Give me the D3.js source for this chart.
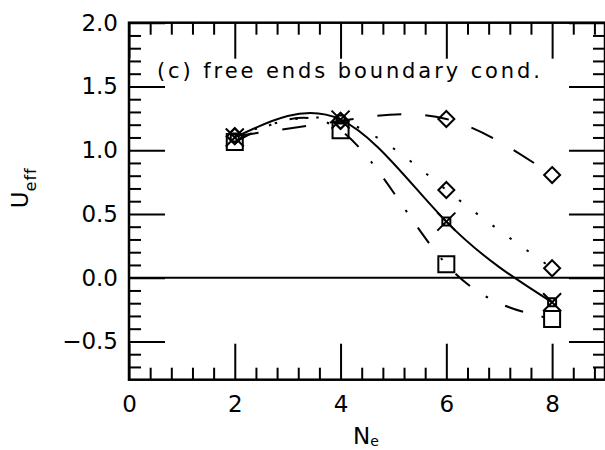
<!DOCTYPE html>
<html>
<head>
<meta charset="utf-8">
<script src="https://cdn.jsdelivr.net/npm/d3@7"></script>
<style>
  html, body { margin: 0; padding: 0; background: #fff; }
  svg { display: block; }
  text { font-family: "DejaVu Sans", sans-serif; fill: #000; }
</style>
</head>
<body>
<svg id="chart" width="605" height="450"></svg>
<script>
// ---- data ----
const ne = [2, 4, 6, 8];
const uDashed  = [1.11, 1.23, 1.245, 0.805];   // diamonds, long dashes
const uDotted  = [1.11, 1.23, 0.688, 0.074];   // diamonds, dotted
const uSolid   = [1.10, 1.24, 0.44, -0.193];   // x-squares, solid
const uDashDot = [1.064, 1.156, 0.105, -0.324]; // squares, dash-dot

const xMajor = [0, 2, 4, 6, 8];
const xMinor = [0.4,0.8,1.2,1.6,2.4,2.8,3.2,3.6,4.4,4.8,5.2,5.6,6.4,6.8,7.2,7.6,8.4,8.8];
const yMajor = [-0.5, 0.0, 0.5, 1.0, 1.5, 2.0];
const yMinor = [-0.7,-0.6,-0.4,-0.3,-0.2,-0.1,0.1,0.2,0.3,0.4,0.6,0.7,0.8,0.9,1.1,1.2,1.3,1.4,1.6,1.7,1.8,1.9];
const annotation = "(c) free ends boundary cond.";

// ---- layout ----
const svg = d3.select("#chart");
const L = 129, R = 605, T = 22.7, B = 379.7;
const x = d3.scaleLinear().domain([0, 9]).range([L, R]);
const y = d3.scaleLinear().domain([-0.8, 2.0]).range([B, T]);

const MAJ = 36, MIN = 12;

function styleAxis(g, labels) {
  g.select(".domain").remove();
  g.selectAll(".tick line").attr("stroke", "#000").attr("stroke-width", 2);
  if (!labels) g.selectAll(".tick text").remove();
  else g.selectAll(".tick text").attr("font-size", 23).attr("font-family", "DejaVu Sans").attr("fill", "#000");
}

// bottom
svg.append("g").attr("transform", `translate(0,${B})`)
  .call(d3.axisBottom(x).tickValues(xMajor).tickSizeInner(-MAJ).tickSizeOuter(0).tickPadding(16).tickFormat(d3.format("d")))
  .call(g => styleAxis(g, true));
svg.append("g").attr("transform", `translate(0,${B})`)
  .call(d3.axisBottom(x).tickValues(xMinor).tickSizeInner(-MIN).tickSizeOuter(0))
  .call(g => styleAxis(g, false));
// top
svg.append("g").attr("transform", `translate(0,${T})`)
  .call(d3.axisTop(x).tickValues(xMajor).tickSizeInner(-MAJ).tickSizeOuter(0))
  .call(g => styleAxis(g, false));
svg.append("g").attr("transform", `translate(0,${T})`)
  .call(d3.axisTop(x).tickValues(xMinor).tickSizeInner(-MIN).tickSizeOuter(0))
  .call(g => styleAxis(g, false));
// left
svg.append("g").attr("transform", `translate(${L},0)`)
  .call(d3.axisLeft(y).tickValues(yMajor).tickSizeInner(-MAJ).tickSizeOuter(0).tickPadding(11).tickFormat(d3.format(".1f")))
  .call(g => styleAxis(g, true));
svg.append("g").attr("transform", `translate(${L},0)`)
  .call(d3.axisLeft(y).tickValues(yMinor).tickSizeInner(-MIN).tickSizeOuter(0))
  .call(g => styleAxis(g, false));
// right
svg.append("g").attr("transform", `translate(${R},0)`)
  .call(d3.axisRight(y).tickValues(yMajor).tickSizeInner(-MAJ).tickSizeOuter(0))
  .call(g => styleAxis(g, false));
svg.append("g").attr("transform", `translate(${R},0)`)
  .call(d3.axisRight(y).tickValues(yMinor).tickSizeInner(-MIN).tickSizeOuter(0))
  .call(g => styleAxis(g, false));

// frame
svg.append("rect").attr("x", L).attr("y", T).attr("width", R - L).attr("height", B - T)
  .attr("fill", "none").attr("stroke", "#000").attr("stroke-width", 2.5);

// zero line
svg.append("line").attr("x1", x(0)).attr("x2", x(9)).attr("y1", y(0)).attr("y2", y(0))
  .attr("stroke", "#000").attr("stroke-width", 2);

// ---- curves ----
const line = d3.line().x(d => x(d[0])).y(d => y(d[1])).curve(d3.curveNatural);
const series = [
  { v: uDashed,  dash: "24,24",        marker: "diamond" },
  { v: uDotted,  dash: "2.5,18.5",     marker: "diamond" },
  { v: uSolid,   dash: null,           marker: "xsquare" },
  { v: uDashDot, dash: "19,19,2.5,19", marker: "square" }
];
series.forEach(s => {
  const pts = ne.map((n, i) => [n, s.v[i]]);
  svg.append("path").attr("d", line(pts)).attr("fill", "none")
    .attr("stroke", "#000").attr("stroke-width", 2)
    .attr("stroke-dasharray", s.dash);
});

// ---- markers ----
function markerPath(type, cx, cy) {
  if (type === "diamond") {
    const r = 8;
    return `M${cx},${cy - r}L${cx + r},${cy}L${cx},${cy + r}L${cx - r},${cy}Z`;
  }
  if (type === "square") {
    const r = 8;
    return `M${cx - r},${cy - r}H${cx + r}V${cy + r}H${cx - r}Z`;
  }
  // small square with X
  const r = 4, a = 9;
  return `M${cx - r},${cy - r}H${cx + r}V${cy + r}H${cx - r}Z` +
         `M${cx - a},${cy - a}L${cx + a},${cy + a}M${cx + a},${cy - a}L${cx - a},${cy + a}`;
}
series.forEach(s => {
  svg.append("g").selectAll("path").data(ne.map((n, i) => [n, s.v[i]])).join("path")
    .attr("d", d => markerPath(s.marker, x(d[0]), y(d[1])))
    .attr("fill", "none").attr("stroke", "#000").attr("stroke-width", 2);
});

// ---- annotation ----
svg.append("text").attr("x", 157).attr("y", 77.7)
  .attr("font-size", 21).attr("textLength", 383).attr("lengthAdjust", "spacing")
  .text(annotation);

// ---- axis titles ----
const xt = svg.append("text").attr("x", 353).attr("y", 444).attr("font-size", 23);
xt.append("tspan").text("N");
xt.append("tspan").attr("font-size", 14).attr("dy", 2).text("e");

const yt = svg.append("text").attr("transform", "translate(28.3,208.3) rotate(-90)").attr("font-size", 23);
yt.append("tspan").text("U");
yt.append("tspan").attr("font-size", 16).attr("dy", 8).attr("letter-spacing", 1).text("eff");
</script>
</body>
</html>
